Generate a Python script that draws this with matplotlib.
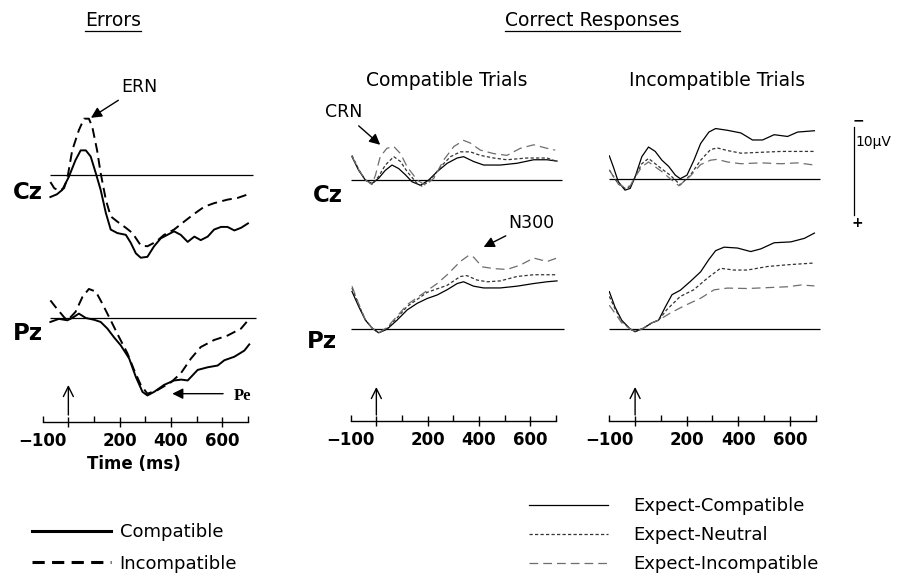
import numpy as np
import matplotlib
matplotlib.use("Agg")
import matplotlib.pyplot as plt
from matplotlib.lines import Line2D

# ---- data (µV, negative plotted upward) ----
# Errors, Cz
err_cz_comp_t = [-70, -45, -24, 2, 28, 48, 68, 87, 107, 126, 146, 165, 191, 224, 243, 263, 282, 308,
                 334, 360, 386, 412, 438, 465, 491, 516, 543, 568, 595, 620, 647, 673, 700]
err_cz_comp = [2.5, 2.2, 1.7, 0.2, -1.7, -2.8, -2.8, -2.1, -0.2, 1.7, 4.3, 6.2, 6.6, 6.8, 7.7, 8.9, 9.4, 9.3,
               8.1, 7.2, 6.8, 6.4, 6.8, 7.6, 7.0, 7.4, 7.0, 6.2, 5.9, 5.9, 6.3, 6.0, 5.5]
err_cz_inc_t = [-70, -55, -35, -17, -4, 15, 41, 61, 80, 93, 112, 126, 146, 165, 191, 224, 250, 282,
                308, 341, 373, 412, 451, 491, 530, 568, 620, 660, 700]
err_cz_inc = [0.8, 1.5, 1.8, 1.5, 0.4, -2.8, -5.1, -6.4, -6.4, -5.5, -2.8, -0.2, 2.8, 4.7, 5.3, 6.0, 6.6, 8.0,
              8.1, 7.6, 6.8, 6.2, 5.3, 4.4, 3.6, 3.2, 2.8, 2.6, 2.2]
# Errors, Pz
err_pz_comp_t = [-70, -37, -4, 15, 41, 68, 100, 126, 152, 178, 204, 237, 263, 289, 308, 334, 373, 412,
                 440, 465, 504, 543, 582, 608, 647, 686, 705]
err_pz_comp = [0.45, 0.1, 0.26, 0.0, -0.5, 0.0, 0.2, 0.45, 1.2, 2.2, 3.1, 4.6, 6.7, 8.4, 8.8, 8.4, 7.6, 7.1,
               7.0, 7.1, 5.9, 5.6, 5.4, 4.8, 4.4, 3.7, 3.0]
err_pz_inc_t = [-70, -50, -17, -4, 28, 55, 80, 107, 133, 165, 198, 230, 256, 282, 308, 347, 400, 438,
                478, 516, 568, 620, 673, 705]
err_pz_inc = [-2.0, -1.25, -0.1, 0.3, -0.7, -2.4, -3.3, -3.0, -1.6, 0.26, 2.2, 4.0, 5.9, 7.6, 8.6, 8.2, 7.3, 6.3,
              4.6, 3.3, 2.5, 2.0, 1.2, 0.1]

# Correct responses, compatible trials, Cz
cmp_cz_ec_t = [-95, -69, -43, -17, 9, 35, 61, 87, 113, 139, 172, 204, 237, 276, 315, 340, 379, 418, 483, 548, 613, 665, 704]
cmp_cz_ec = [-2.65, -1.1, 0.0, 0.4, -0.2, -1.1, -1.7, -1.3, -0.6, 0.2, 0.6, 0.0, -0.95, -1.9, -2.5, -2.65, -2.1,
             -1.7, -1.7, -1.9, -2.3, -2.3, -2.15]
cmp_cz_en_t = [-95, -69, -43, -17, 9, 35, 68, 94, 120, 159, 178, 211, 250, 289, 327, 366, 405, 457, 509, 587, 665, 704]
cmp_cz_en = [-2.8, -1.2, 0.0, 0.5, -0.4, -1.7, -2.65, -2.1, -0.95, 0.4, 0.7, 0.0, -1.5, -2.65, -3.2, -3.2, -2.8,
             -2.5, -2.3, -2.5, -2.5, -2.1]
cmp_cz_ei_t = [-95, -69, -43, -17, -3, 15, 41, 68, 94, 120, 159, 191, 224, 263, 302, 340, 366, 405, 457, 509, 561, 613, 665, 697]
cmp_cz_ei = [-2.7, -1.2, 0.0, 0.5, -0.6, -2.65, -3.6, -3.8, -3.0, -1.5, 0.0, 0.6, -0.2, -2.3, -3.8, -4.5, -4.2,
             -3.4, -3.0, -2.8, -3.6, -4.0, -3.6, -3.4]
# Correct responses, compatible trials, Pz
cmp_pz_ec_t = [-95, -69, -43, -17, 9, 41, 81, 120, 159, 198, 237, 276, 315, 340, 379, 418, 483, 548, 613, 665, 704]
cmp_pz_ec = [-4.3, -2.6, -1.05, -0.15, 0.4, 0.0, -1.05, -2.2, -2.95, -3.5, -3.9, -4.5, -5.2, -5.4, -4.9, -4.7,
             -4.7, -4.9, -5.2, -5.4, -5.5]
cmp_pz_en_t = [-95, -69, -43, -17, 9, 41, 81, 120, 159, 198, 237, 276, 327, 353, 392, 431, 483, 548, 613, 704]
cmp_pz_en = [-4.7, -2.8, -1.1, -0.15, 0.4, -0.1, -1.3, -2.6, -3.4, -4.2, -4.6, -5.0, -6.0, -6.1, -5.6, -5.4,
             -5.5, -6.0, -6.2, -6.2]
cmp_pz_ei_t = [-95, -69, -43, -17, 9, 41, 81, 120, 159, 198, 237, 276, 327, 360, 379, 412, 457, 509, 561, 613, 665, 704]
cmp_pz_ei = [-4.9, -2.9, -1.1, -0.15, 0.4, -0.2, -1.5, -2.8, -3.6, -4.4, -5.2, -6.2, -7.7, -8.4, -8.2, -7.1,
             -6.9, -6.8, -7.3, -8.1, -7.7, -8.1]

# Correct responses, incompatible trials, Cz
inc_cz_ec_t = [-100, -85, -65, -39, -19, 0, 26, 52, 78, 104, 130, 156, 175, 201, 228, 254, 286, 312, 358, 410,
               455, 494, 539, 591, 630, 695]
inc_cz_ec = [-2.6, -1.4, 0.35, 1.3, 1.1, -0.2, -2.5, -3.6, -3.1, -2.1, -1.4, -0.4, 0.0, -0.4, -2.1, -4.0, -5.3,
             -5.7, -5.5, -5.2, -4.4, -4.4, -5.0, -4.8, -5.3, -5.45]
inc_cz_en_t = [-100, -85, -65, -39, -19, 0, 26, 52, 78, 104, 136, 175, 214, 254, 292, 318, 358, 410, 488, 566, 630, 695]
inc_cz_en = [-1.0, -0.3, 0.6, 1.1, 0.9, -0.2, -1.7, -2.3, -1.7, -1.1, -0.4, 0.7, -0.4, -2.1, -3.3, -3.5, -3.2,
             -2.9, -3.0, -3.1, -3.1, -3.1]
inc_cz_ei_t = [-100, -85, -65, -39, -19, 0, 26, 52, 78, 104, 136, 170, 214, 254, 292, 318, 358, 410, 488, 566, 630, 695]
inc_cz_ei = [-1.0, -0.3, 0.6, 1.0, 0.8, -0.2, -1.35, -1.9, -1.35, -0.8, 0.0, 0.8, -0.3, -1.6, -2.1, -2.2, -1.9,
             -1.7, -1.8, -1.7, -1.8, -1.55]
# Correct responses, incompatible trials, Pz
inc_pz_ec_t = [-100, -78, -52, -19, 0, 33, 65, 91, 117, 143, 175, 214, 254, 286, 312, 345, 397, 448, 487, 539, 604, 656, 695]
inc_pz_ec = [-4.25, -2.5, -1.0, 0.0, 0.3, -0.1, -0.7, -1.0, -2.5, -3.9, -4.4, -5.4, -6.5, -7.9, -8.9, -9.3,
             -9.2, -8.8, -9.1, -9.8, -9.9, -10.3, -10.9]
inc_pz_en_t = [-100, -78, -52, -19, 0, 33, 65, 91, 123, 175, 227, 279, 331, 383, 435, 513, 591, 695]
inc_pz_en = [-3.7, -2.3, -0.9, 0.0, 0.3, -0.1, -0.7, -1.0, -2.2, -3.7, -4.45, -5.75, -6.9, -6.7, -6.7, -7.1, -7.3, -7.5]
inc_pz_ei_t = [-100, -78, -52, -19, 0, 33, 65, 91, 136, 188, 254, 306, 358, 435, 513, 591, 643, 695]
inc_pz_ei = [-2.7, -1.8, -0.7, 0.0, 0.3, -0.1, -0.7, -1.0, -1.8, -2.6, -3.5, -4.45, -4.65, -4.6, -4.7, -4.8, -5.0, -4.9]

tick_major = [0, 200, 400, 600]
tick_minor = [-100, 100, 300, 500, 700]
tick_major_labels = ["", "200", "400", "600"]
tick_minor_labels = ["\u2212100", "", "", "", ""]

# ---- layout helpers (pixel based) ----
W, H = 898, 580
PXUV = 8.8
XMIN, XMAX = -100, 740

fig = plt.figure(figsize=(W / 100, H / 100), dpi=100)


def make_panel(x100, pxms, base, top, bottom):
    right = x100 + (XMAX - XMIN) * pxms
    ax = fig.add_axes([x100 / W, 1 - bottom / H, (right - x100) / W, (bottom - top) / H])
    ax.set_xlim(XMIN, XMAX)
    ax.set_ylim((bottom - base) / PXUV, -(base - top) / PXUV)
    ax.patch.set_visible(False)
    for s in ax.spines.values():
        s.set_visible(False)
    ax.set_xticks([])
    ax.set_yticks([])
    return ax


def time_axis(ax):
    ax.spines["bottom"].set_visible(True)
    ax.spines["bottom"].set_linewidth(1.0)
    ax.spines["bottom"].set_bounds(-100, 700)
    ax.set_xticks(tick_major, labels=tick_major_labels)
    ax.set_xticks(tick_minor, labels=tick_minor_labels, minor=True)
    ax.tick_params(axis="x", which="major", direction="inout", length=7, width=1, labelsize=12, pad=4)
    ax.tick_params(axis="x", which="minor", direction="in", length=4, width=1, labelsize=12, pad=7.5)
    for lab in ax.get_xticklabels(which="both"):
        lab.set_fontweight("bold")


def up_arrow(ax, y0, y1):
    ax.annotate("", xy=(0, y1), xytext=(0, y0),
                arrowprops=dict(arrowstyle="->", color="k", lw=1.0, mutation_scale=18, shrinkA=0, shrinkB=0))


# columns: left (errors), middle (compatible), right (incompatible)
ax_e_cz = make_panel(42.7, 0.2566, 175, 90, 280)
ax_e_pz = make_panel(42.7, 0.2566, 318, 230, 422)
ax_c_cz = make_panel(350.7, 0.2566, 180, 90, 280)
ax_c_pz = make_panel(350.7, 0.2566, 329.3, 230, 421)
ax_i_cz = make_panel(609.3, 0.258, 178.7, 90, 280)
ax_i_pz = make_panel(609.3, 0.258, 329, 230, 421)

# errors
ERR_LW = 1.4
for ax, ct, cv, it, iv, span in [(ax_e_cz, err_cz_comp_t, err_cz_comp, err_cz_inc_t, err_cz_inc, (-72, 720)),
                                  (ax_e_pz, err_pz_comp_t, err_pz_comp, err_pz_inc_t, err_pz_inc, (-72, 730))]:
    ax.hlines(0, span[0], span[1], color="k", lw=0.9)
    ax.plot(ct, cv, color="k", lw=ERR_LW)
    ax.plot(it, iv, color="k", lw=ERR_LW, linestyle=(0, (5, 2.8)))

# correct responses
COR_LW = 0.9
cor_lines = []
for ax, series, span in [
    (ax_c_cz, [(cmp_cz_ec_t, cmp_cz_ec), (cmp_cz_en_t, cmp_cz_en), (cmp_cz_ei_t, cmp_cz_ei)], (-100, 725)),
    (ax_c_pz, [(cmp_pz_ec_t, cmp_pz_ec), (cmp_pz_en_t, cmp_pz_en), (cmp_pz_ei_t, cmp_pz_ei)], (-100, 730)),
    (ax_i_cz, [(inc_cz_ec_t, inc_cz_ec), (inc_cz_en_t, inc_cz_en), (inc_cz_ei_t, inc_cz_ei)], (-100, 715)),
    (ax_i_pz, [(inc_pz_ec_t, inc_pz_ec), (inc_pz_en_t, inc_pz_en), (inc_pz_ei_t, inc_pz_ei)], (-100, 715)),
]:
    ax.hlines(0, span[0], span[1], color="k", lw=0.9)
    (t0, v0), (t1, v1), (t2, v2) = series
    l0, = ax.plot(t0, v0, color="k", lw=COR_LW)
    l1, = ax.plot(t1, v1, color="#333333", lw=COR_LW, linestyle=(0, (2.6, 1.8)))
    l2, = ax.plot(t2, v2, color="#6e6e6e", lw=COR_LW, linestyle=(0, (7, 4)))
    cor_lines = [l0, l1, l2]

# time axes
for ax in (ax_e_pz, ax_c_pz, ax_i_pz):
    time_axis(ax)
ax_e_pz.set_xlabel("Time (ms)", fontsize=12, fontweight="bold", labelpad=1)
ax_e_pz.xaxis.set_label_coords((134 - 42.7) / ((XMAX - XMIN) * 0.2566), -0.172)

up_arrow(ax_e_pz, (415 - 318) / PXUV, (385 - 318) / PXUV)
up_arrow(ax_c_pz, (415 - 329.3) / PXUV, (387 - 329.3) / PXUV)
up_arrow(ax_i_pz, (415 - 329) / PXUV, (387 - 329) / PXUV)

# component annotations
head = dict(arrowstyle="-|>", color="k", lw=1.0, mutation_scale=16, shrinkA=2, shrinkB=0)
ax_e_cz.annotate("ERN", xy=(88, -6.5), xytext=(205, -10.0), fontsize=12.5, va="center", ha="left",
                 arrowprops=head)
ax_c_cz.annotate("CRN", xy=(15, -4.0), xytext=(-129, -7.7), fontsize=12.5, va="center", ha="center",
                 arrowprops=head, annotation_clip=False)
ax_c_pz.annotate("N300", xy=(418, -9.35), xytext=(605, -12.1), fontsize=12.5, va="center", ha="center",
                 arrowprops=head, annotation_clip=False)
ax_e_pz.annotate("", xy=(405, 8.6), xytext=(603, 8.6),
                 arrowprops=dict(arrowstyle="-|>", color="k", lw=1.0, mutation_scale=16, shrinkA=0, shrinkB=0))
ax_e_pz.text(643, 8.9, "Pe", fontsize=12, fontweight="bold", family="Liberation Serif", va="center", ha="left")

# scale bar (10 µV) next to the right column
ax_i_cz.plot([848, 848], [-5.9, 4.1], color="k", lw=0.9, clip_on=False)
ax_i_cz.text(864, -6.6, "\u2212", fontsize=10, fontweight="bold", ha="center", va="center")
ax_i_cz.text(853, -4.2, "10\u00b5V", fontsize=10, ha="left", va="center")
ax_i_cz.text(860, 5.0, "+", fontsize=10, fontweight="bold", ha="center", va="center")


def ftext(x, y, s, **kw):
    return fig.text(x / W, 1 - y / H, s, **kw)


# electrode labels
for x, y, s in [(13, 193, "Cz"), (13, 333, "Pz"), (313, 195, "Cz"), (307, 342, "Pz")]:
    ftext(x, y, s, fontsize=16.5, fontweight="bold", ha="left", va="center")

# titles
t_err = ftext(85, 20, "Errors", fontsize=13.5, ha="left", va="center")
t_cor = ftext(505, 20, "Correct Responses", fontsize=13.5, ha="left", va="center")
ftext(447, 80, "Compatible Trials", fontsize=13.5, ha="center", va="center")
ftext(717, 81, "Incompatible Trials", fontsize=13.5, ha="center", va="center")

# legends
leg_err = [Line2D([], [], color="k", lw=2.2), Line2D([], [], color="k", lw=2.2, linestyle=(0, (4, 2.4)))]
fig.legend(leg_err, ["Compatible", "Incompatible"], loc="upper left", bbox_to_anchor=(32 / W, 1 - 523 / H),
           frameon=False, fontsize=13, handlelength=4.4, handletextpad=0.45, labelspacing=0.75,
           borderpad=0, borderaxespad=0)
fig.legend(cor_lines, ["Expect-Compatible", "Expect-Neutral", "Expect-Incompatible"], loc="upper left",
           bbox_to_anchor=(529 / W, 1 - 497 / H), frameon=False, fontsize=13, handlelength=4.4,
           handletextpad=1.4, labelspacing=0.62, borderpad=0, borderaxespad=0)

# underline the two headings
fig.canvas.draw()
r = fig.canvas.get_renderer()
for t in (t_err, t_cor):
    bb = t.get_window_extent(r)
    y = (bb.y0 - 1) / H
    fig.add_artist(Line2D([bb.x0 / W, bb.x1 / W], [y, y], color="k", lw=0.9))

fig.savefig("out.png", dpi=100)
